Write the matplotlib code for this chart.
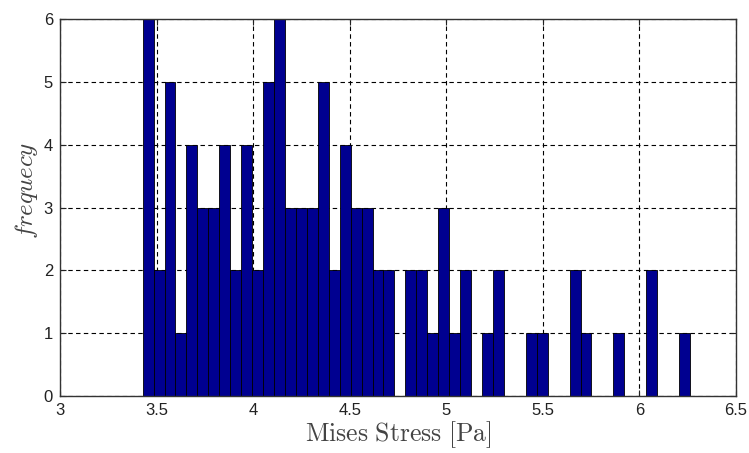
import numpy as np
import matplotlib.pyplot as plt

plt.rcParams["mathtext.fontset"] = "cm"
plt.rcParams["font.family"] = ["Liberation Sans", "DejaVu Sans"]

# histogram: 50 bins between min and max of the stress samples
bin_lo = 3.428
bin_hi = 6.262
counts = [6, 2, 5, 1, 4, 3, 3, 4, 2, 4,
          2, 5, 6, 3, 3, 3, 5, 2, 4, 3,
          3, 2, 2, 0, 2, 2, 1, 3, 1, 2,
          0, 1, 2, 0, 0, 1, 1, 0, 0, 2,
          1, 0, 0, 1, 0, 0, 2, 0, 0, 1]
xticks = [3, 3.5, 4, 4.5, 5, 5.5, 6, 6.5]
xticklabels = ["3", "3.5", "4", "4.5", "5", "5.5", "6", "6.5"]
yticks = [0, 1, 2, 3, 4, 5, 6]

edges = np.linspace(bin_lo, bin_hi, len(counts) + 1)
width = edges[1] - edges[0]

fig = plt.figure(figsize=(7.49, 4.53), dpi=100)
ax = fig.add_axes([0.0801, 0.1258, 0.9025, 0.8322])

ax.bar(edges[:-1], counts, width=width, align="edge",
       color="#000090", edgecolor="black", linewidth=0.6, zorder=2)

ax.set_xlim(3, 6.5)
ax.set_ylim(0, 6)
ax.set_xticks(xticks)
ax.set_xticklabels(xticklabels)
ax.set_yticks(yticks)
ax.grid(True, color="black", linestyle=(0, (4, 3)), linewidth=0.8)
ax.set_axisbelow(True)
ax.tick_params(direction="in", top=True, right=True, length=4,
               labelsize=12, colors="#222222", pad=5)
for s in ax.spines.values():
    s.set_color("#333333")
    s.set_linewidth(1.0)

ax.set_xlabel(r"$\mathrm{Mises\ Stress\ [Pa]}$", fontsize=18.5, color="#444444", labelpad=1)
ax.set_ylabel(r"$frequecy$", fontsize=18, color="#444444")
ax.yaxis.set_label_coords(-0.03, 0.545)

fig.savefig("out.png", dpi=100)
